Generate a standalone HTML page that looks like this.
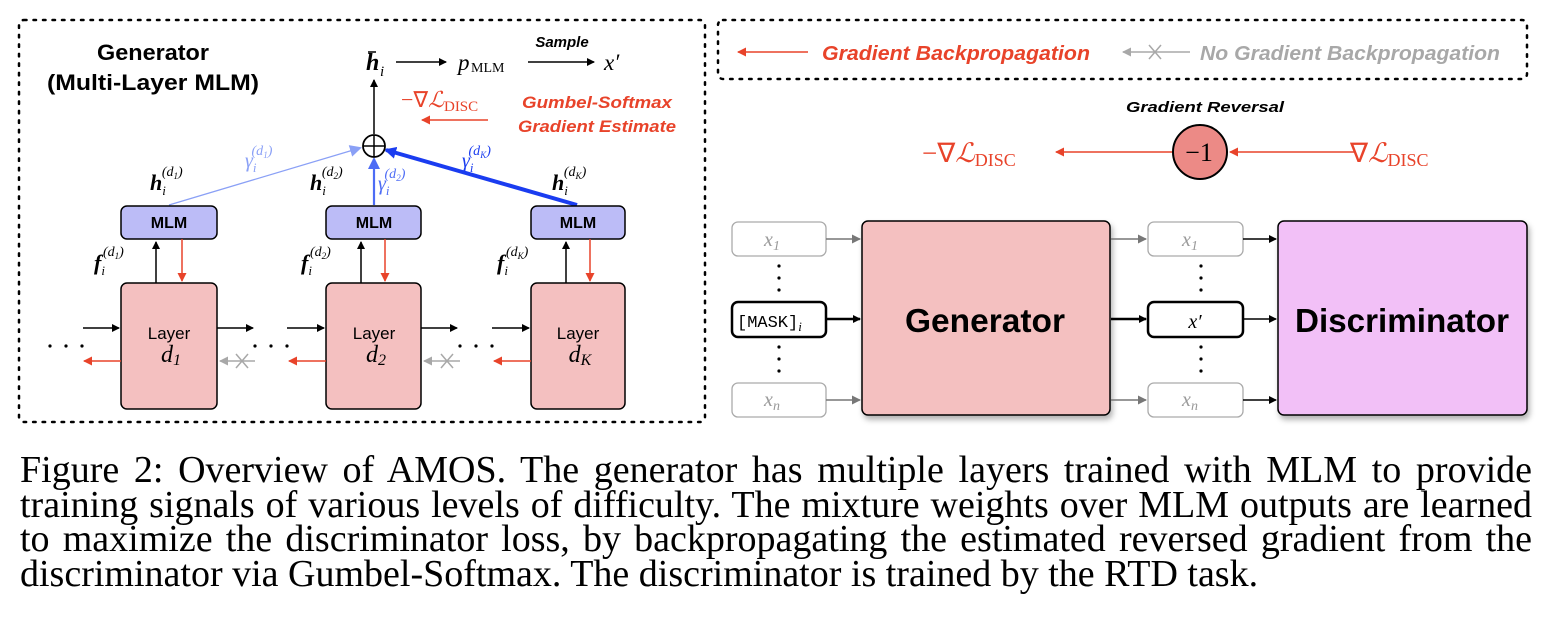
<!DOCTYPE html>
<html><head><meta charset="utf-8"><style>
body{margin:0;background:#fff;width:1550px;height:634px;overflow:hidden}
svg{position:absolute;left:0;top:0}
.cap{position:absolute;left:20px;top:453px;width:1512px;font-family:"Liberation Serif",serif;font-size:38px;line-height:34.7px;color:#000}
.cap div{text-align:justify;text-align-last:justify;height:34.7px;overflow:visible;white-space:nowrap}
.cap div.l{text-align:left;text-align-last:left}
.s{font-family:"Liberation Sans",sans-serif;font-weight:bold}
.m{font-family:"Liberation Serif",serif;font-style:italic}
.r{font-family:"Liberation Serif",serif}
</style></head><body>
<svg width="1550" height="440" viewBox="0 0 1550 440">
<defs>
<marker id="ak" markerWidth="8" markerHeight="8" refX="7" refY="4" orient="auto" markerUnits="userSpaceOnUse"><path d="M0,0L8,4L0,8z" fill="#000"/></marker>
<marker id="ar" markerWidth="9" markerHeight="9" refX="8" refY="4.5" orient="auto" markerUnits="userSpaceOnUse"><path d="M0,0L9,4.5L0,9z" fill="#e8432a"/></marker>
<marker id="ag" markerWidth="9" markerHeight="9" refX="8" refY="4.5" orient="auto" markerUnits="userSpaceOnUse"><path d="M0,0L9,4.5L0,9z" fill="#a8a8a8"/></marker>
<marker id="ag2" markerWidth="9" markerHeight="9" refX="8" refY="4.5" orient="auto" markerUnits="userSpaceOnUse"><path d="M0,0L9,4.5L0,9z" fill="#777"/></marker>
<marker id="ab" markerWidth="12" markerHeight="12" refX="10" refY="6" orient="auto" markerUnits="userSpaceOnUse"><path d="M0,0L12,6L0,12z" fill="#1a3cf0"/></marker>
<marker id="ab2" markerWidth="12" markerHeight="12" refX="10" refY="6" orient="auto" markerUnits="userSpaceOnUse"><path d="M0,0L12,6L0,12z" fill="#4d6cf5"/></marker>
<marker id="ab3" markerWidth="12" markerHeight="12" refX="10" refY="6" orient="auto" markerUnits="userSpaceOnUse"><path d="M0,0L12,6L0,12z" fill="#8aa0f6"/></marker>
<filter id="sh" x="-10%" y="-10%" width="130%" height="130%"><feDropShadow dx="2" dy="4" stdDeviation="3" flood-opacity="0.3"/></filter>
</defs>
<rect x="19" y="20" width="686" height="402" rx="5" fill="none" stroke="#000" stroke-width="2.5" stroke-dasharray="2.5 7" stroke-linecap="round"/>
<text x="153" y="60" class="s" font-size="22" text-anchor="middle" textLength="112" lengthAdjust="spacingAndGlyphs">Generator</text>
<text x="153" y="90" class="s" font-size="22" text-anchor="middle" textLength="212" lengthAdjust="spacingAndGlyphs">(Multi-Layer MLM)</text>
<text x="366" y="70" class="m" font-weight="bold" font-size="24">h</text><line x1="368" y1="52" x2="376" y2="52" stroke="#000" stroke-width="1.5"/><text x="380" y="76" class="m" font-size="15">i</text>
<line x1="396" y1="62" x2="446" y2="62" stroke="#000" stroke-width="1.5" marker-end="url(#ak)"/>
<text x="458" y="70" class="m" font-size="23">p</text><text x="471" y="72" class="r" font-size="14">MLM</text>
<line x1="528" y1="62" x2="594" y2="62" stroke="#000" stroke-width="1.5" marker-end="url(#ak)"/>
<text x="562" y="47" class="s" font-size="15" font-style="italic" text-anchor="middle">Sample</text>
<text x="604" y="70" class="m" font-size="23">x′</text>
<text x="401" y="107" class="r" font-size="22" fill="#e8432a">−∇<tspan class="m">ℒ</tspan><tspan font-size="15" dy="4">DISC</tspan></text>
<line x1="488" y1="120" x2="422" y2="120" stroke="#e8432a" stroke-width="1.5" marker-end="url(#ar)"/>
<text x="597" y="108" class="s" font-size="17" font-style="italic" fill="#e8432a" text-anchor="middle" textLength="150" lengthAdjust="spacingAndGlyphs">Gumbel-Softmax</text>
<text x="597" y="132" class="s" font-size="17" font-style="italic" fill="#e8432a" text-anchor="middle" textLength="158" lengthAdjust="spacingAndGlyphs">Gradient Estimate</text>
<line x1="374" y1="134" x2="374" y2="80" stroke="#000" stroke-width="1.5" marker-end="url(#ak)"/>
<line x1="169" y1="205" x2="360" y2="148" stroke="#8aa0f6" stroke-width="1.3" marker-end="url(#ab3)"/>
<line x1="374" y1="205" x2="374" y2="159" stroke="#4d6cf5" stroke-width="2.2" marker-end="url(#ab2)"/>
<line x1="577" y1="205" x2="386" y2="150" stroke="#1a3cf0" stroke-width="4" marker-end="url(#ab)"/>
<circle cx="374" cy="146" r="11" fill="#fff" stroke="#000" stroke-width="1.8"/>
<line x1="363" y1="146" x2="385" y2="146" stroke="#000" stroke-width="1.5"/><line x1="374" y1="135" x2="374" y2="157" stroke="#000" stroke-width="1.5"/>
<text x="245" y="167" class="m" font-size="20" fill="#8aa0f6">γ<tspan font-size="13" dy="5">i</tspan><tspan class="r" font-size="14" dy="-17" dx="-5">(d</tspan><tspan font-size="9" dy="3">1</tspan><tspan class="r" font-size="14" dy="-3">)</tspan></text>
<text x="378" y="190" class="m" font-size="20" fill="#4d6cf5">γ<tspan font-size="13" dy="5">i</tspan><tspan class="r" font-size="14" dy="-17" dx="-5">(d</tspan><tspan font-size="9" dy="3">2</tspan><tspan class="r" font-size="14" dy="-3">)</tspan></text>
<text x="462" y="167" class="m" font-size="20" fill="#1a3cf0">γ<tspan font-size="13" dy="5">i</tspan><tspan class="r" font-size="14" dy="-17" dx="-5">(d</tspan><tspan font-size="9" dy="3">K</tspan><tspan class="r" font-size="14" dy="-3">)</tspan></text>
<g font-size="22">
<text x="150" y="190" class="m" font-weight="bold">h<tspan font-size="13" font-weight="normal" dy="5">i</tspan><tspan class="r" font-weight="normal" font-size="14" dy="-19" dx="-4">(d</tspan><tspan font-weight="normal" font-size="9" dy="3">1</tspan><tspan class="r" font-weight="normal" font-size="14" dy="-3">)</tspan></text>
<text x="310" y="190" class="m" font-weight="bold">h<tspan font-size="13" font-weight="normal" dy="5">i</tspan><tspan class="r" font-weight="normal" font-size="14" dy="-19" dx="-4">(d</tspan><tspan font-weight="normal" font-size="9" dy="3">2</tspan><tspan class="r" font-weight="normal" font-size="14" dy="-3">)</tspan></text>
<text x="552" y="190" class="m" font-weight="bold">h<tspan font-size="13" font-weight="normal" dy="5">i</tspan><tspan class="r" font-weight="normal" font-size="14" dy="-19" dx="-4">(d</tspan><tspan font-weight="normal" font-size="9" dy="3">K</tspan><tspan class="r" font-weight="normal" font-size="14" dy="-3">)</tspan></text>
<text x="94" y="270" class="m" font-weight="bold">f<tspan font-size="13" font-weight="normal" dy="5">i</tspan><tspan class="r" font-weight="normal" font-size="14" dy="-19" dx="-2">(d</tspan><tspan font-weight="normal" font-size="9" dy="3">1</tspan><tspan class="r" font-weight="normal" font-size="14" dy="-3">)</tspan></text>
<text x="301" y="270" class="m" font-weight="bold">f<tspan font-size="13" font-weight="normal" dy="5">i</tspan><tspan class="r" font-weight="normal" font-size="14" dy="-19" dx="-2">(d</tspan><tspan font-weight="normal" font-size="9" dy="3">2</tspan><tspan class="r" font-weight="normal" font-size="14" dy="-3">)</tspan></text>
<text x="497" y="270" class="m" font-weight="bold">f<tspan font-size="13" font-weight="normal" dy="5">i</tspan><tspan class="r" font-weight="normal" font-size="14" dy="-19" dx="-2">(d</tspan><tspan font-weight="normal" font-size="9" dy="3">K</tspan><tspan class="r" font-weight="normal" font-size="14" dy="-3">)</tspan></text>
</g>
<g>
<rect x="121" y="206" width="96" height="33" rx="6" fill="#bcbcf7" stroke="#000" stroke-width="1.5"/>
<text x="169" y="228" class="s" font-size="16" text-anchor="middle">MLM</text>
<rect x="121" y="283" width="96" height="126" rx="6" fill="#f4c0c0" stroke="#000" stroke-width="1.5"/>
<text x="169" y="339" font-family="Liberation Sans" font-size="17" text-anchor="middle">Layer</text>
<text x="171" y="362" class="m" font-size="24" text-anchor="middle">d<tspan class="r" font-size="16" dy="3">1</tspan></text>
<line x1="156" y1="283" x2="156" y2="242" stroke="#000" stroke-width="1.5" marker-end="url(#ak)"/>
<line x1="182" y1="239" x2="182" y2="281" stroke="#e8432a" stroke-width="1.5" marker-end="url(#ar)"/>
</g>
<g>
<rect x="326" y="206" width="95" height="33" rx="6" fill="#bcbcf7" stroke="#000" stroke-width="1.5"/>
<text x="374" y="228" class="s" font-size="16" text-anchor="middle">MLM</text>
<rect x="326" y="283" width="95" height="126" rx="6" fill="#f4c0c0" stroke="#000" stroke-width="1.5"/>
<text x="374" y="339" font-family="Liberation Sans" font-size="17" text-anchor="middle">Layer</text>
<text x="376" y="362" class="m" font-size="24" text-anchor="middle">d<tspan class="r" font-size="16" dy="3">2</tspan></text>
<line x1="361" y1="283" x2="361" y2="242" stroke="#000" stroke-width="1.5" marker-end="url(#ak)"/>
<line x1="385" y1="239" x2="385" y2="281" stroke="#e8432a" stroke-width="1.5" marker-end="url(#ar)"/>
</g>
<g>
<rect x="531" y="206" width="94" height="33" rx="6" fill="#bcbcf7" stroke="#000" stroke-width="1.5"/>
<text x="578" y="228" class="s" font-size="16" text-anchor="middle">MLM</text>
<rect x="531" y="283" width="94" height="126" rx="6" fill="#f4c0c0" stroke="#000" stroke-width="1.5"/>
<text x="578" y="339" font-family="Liberation Sans" font-size="17" text-anchor="middle">Layer</text>
<text x="580" y="362" class="m" font-size="24" text-anchor="middle">d<tspan font-size="16" dy="3">K</tspan></text>
<line x1="566" y1="283" x2="566" y2="242" stroke="#000" stroke-width="1.5" marker-end="url(#ak)"/>
<line x1="590" y1="239" x2="590" y2="281" stroke="#e8432a" stroke-width="1.5" marker-end="url(#ar)"/>
</g>
<g stroke-width="1.5">
<line x1="83" y1="328" x2="119" y2="328" stroke="#000" marker-end="url(#ak)"/>
<line x1="217" y1="328" x2="253" y2="328" stroke="#000" marker-end="url(#ak)"/>
<line x1="287" y1="328" x2="324" y2="328" stroke="#000" marker-end="url(#ak)"/>
<line x1="421" y1="328" x2="457" y2="328" stroke="#000" marker-end="url(#ak)"/>
<line x1="492" y1="328" x2="529" y2="328" stroke="#000" marker-end="url(#ak)"/>
<line x1="121" y1="361" x2="84" y2="361" stroke="#e8432a" marker-end="url(#ar)"/>
<line x1="326" y1="361" x2="289" y2="361" stroke="#e8432a" marker-end="url(#ar)"/>
<line x1="531" y1="361" x2="494" y2="361" stroke="#e8432a" marker-end="url(#ar)"/>
<line x1="255" y1="361" x2="220" y2="361" stroke="#a8a8a8" marker-end="url(#ag)"/>
<path d="M236,354L248,368M248,354L236,368" stroke="#a8a8a8"/>
<line x1="460" y1="361" x2="424" y2="361" stroke="#a8a8a8" marker-end="url(#ag)"/>
<path d="M441,354L453,368M453,354L441,368" stroke="#a8a8a8"/>
</g>
<g fill="#000"><circle cx="50" cy="346" r="1.6"/><circle cx="66" cy="346" r="1.6"/><circle cx="82" cy="346" r="1.6"/>
<circle cx="255" cy="346" r="1.6"/><circle cx="271" cy="346" r="1.6"/><circle cx="287" cy="346" r="1.6"/>
<circle cx="460" cy="346" r="1.6"/><circle cx="476" cy="346" r="1.6"/><circle cx="492" cy="346" r="1.6"/></g>

<rect x="718" y="20" width="809" height="59" rx="5" fill="none" stroke="#000" stroke-width="2.5" stroke-dasharray="2.5 7" stroke-linecap="round"/>
<line x1="808" y1="52" x2="738" y2="52" stroke="#e8432a" stroke-width="1.5" marker-end="url(#ar)"/>
<text x="822" y="60" class="s" font-size="20" font-style="italic" fill="#e8432a" textLength="268" lengthAdjust="spacingAndGlyphs">Gradient Backpropagation</text>
<line x1="1190" y1="52" x2="1123" y2="52" stroke="#a8a8a8" stroke-width="1.5" marker-end="url(#ag)"/>
<path d="M1149,45L1161,59M1161,45L1149,59" stroke="#a8a8a8" stroke-width="1.5"/>
<text x="1200" y="60" class="s" font-size="20" font-style="italic" fill="#a8a8a8" textLength="300" lengthAdjust="spacingAndGlyphs">No Gradient Backpropagation</text>
<text x="1205" y="112" class="s" font-size="15" font-style="italic" text-anchor="middle" textLength="158" lengthAdjust="spacingAndGlyphs">Gradient Reversal</text>
<line x1="1172" y1="152" x2="1056" y2="152" stroke="#e8432a" stroke-width="1.5" marker-end="url(#ar)"/>
<line x1="1355" y1="152" x2="1230" y2="152" stroke="#e8432a" stroke-width="1.5" marker-end="url(#ar)"/>
<ellipse cx="1200" cy="152" rx="27" ry="27" fill="#ec8a86" stroke="#000" stroke-width="2"/>
<text x="1199" y="161" class="r" font-size="26" text-anchor="middle">−1</text>
<text x="922" y="162" class="r" font-size="27" fill="#e8432a">−∇<tspan class="m">ℒ</tspan><tspan font-size="18" dy="4">DISC</tspan></text>
<text x="1350" y="162" class="r" font-size="27" fill="#e8432a">∇<tspan class="m">ℒ</tspan><tspan font-size="18" dy="4">DISC</tspan></text>
<rect x="732" y="222" width="94" height="34" rx="6" fill="#fff" stroke="#aaa" stroke-width="1.3"/>
<text x="772" y="246" class="m" font-size="20" fill="#999" text-anchor="middle">x<tspan class="r" font-size="14" dy="4">1</tspan></text>
<rect x="732" y="302" width="94" height="35" rx="6" fill="#fff" stroke="#000" stroke-width="2.5"/>
<text x="737" y="327" font-family="Liberation Mono" font-size="17">[MASK]<tspan class="m" font-size="13" dy="4">i</tspan></text>
<rect x="732" y="383" width="94" height="34" rx="6" fill="#fff" stroke="#aaa" stroke-width="1.3"/>
<text x="772" y="406" class="m" font-size="20" fill="#999" text-anchor="middle">x<tspan font-size="14" dy="4">n</tspan></text>
<g fill="#000"><circle cx="779" cy="266" r="1.6"/><circle cx="779" cy="278" r="1.6"/><circle cx="779" cy="290" r="1.6"/>
<circle cx="779" cy="347" r="1.6"/><circle cx="779" cy="359" r="1.6"/><circle cx="779" cy="371" r="1.6"/>
<circle cx="1201" cy="266" r="1.6"/><circle cx="1201" cy="278" r="1.6"/><circle cx="1201" cy="290" r="1.6"/>
<circle cx="1201" cy="347" r="1.6"/><circle cx="1201" cy="359" r="1.6"/><circle cx="1201" cy="371" r="1.6"/></g>
<rect x="862" y="221" width="248" height="194" rx="6" fill="#f4c0c0" stroke="#000" stroke-width="1.5" filter="url(#sh)"/>
<text x="985" y="332" class="s" font-size="33" text-anchor="middle" textLength="160" lengthAdjust="spacingAndGlyphs">Generator</text>
<rect x="1148" y="222" width="95" height="34" rx="6" fill="#fff" stroke="#aaa" stroke-width="1.3"/>
<text x="1190" y="246" class="m" font-size="20" fill="#999" text-anchor="middle">x<tspan class="r" font-size="14" dy="4">1</tspan></text>
<rect x="1148" y="302" width="95" height="35" rx="6" fill="#fff" stroke="#000" stroke-width="2.5"/>
<text x="1195" y="328" class="m" font-size="20" text-anchor="middle">x′</text>
<rect x="1148" y="383" width="95" height="34" rx="6" fill="#fff" stroke="#aaa" stroke-width="1.3"/>
<text x="1190" y="406" class="m" font-size="20" fill="#999" text-anchor="middle">x<tspan font-size="14" dy="4">n</tspan></text>
<rect x="1278" y="221" width="249" height="194" rx="6" fill="#f2c0f7" stroke="#000" stroke-width="1.5" filter="url(#sh)"/>
<text x="1402" y="332" class="s" font-size="33" text-anchor="middle" textLength="214" lengthAdjust="spacingAndGlyphs">Discriminator</text>
<g stroke-width="1.5">
<line x1="826" y1="239" x2="860" y2="239" stroke="#777" marker-end="url(#ag2)"/>
<line x1="826" y1="400" x2="860" y2="400" stroke="#777" marker-end="url(#ag2)"/>
<line x1="826" y1="319" x2="860" y2="319" stroke="#000" stroke-width="2.5" marker-end="url(#ak)"/>
<line x1="1111" y1="239" x2="1146" y2="239" stroke="#777" marker-end="url(#ag2)"/>
<line x1="1111" y1="400" x2="1146" y2="400" stroke="#777" marker-end="url(#ag2)"/>
<line x1="1111" y1="319" x2="1146" y2="319" stroke="#000" stroke-width="2.5" marker-end="url(#ak)"/>
<line x1="1243" y1="239" x2="1276" y2="239" stroke="#000" marker-end="url(#ak)"/>
<line x1="1243" y1="319" x2="1276" y2="319" stroke="#000" marker-end="url(#ak)"/>
<line x1="1243" y1="400" x2="1276" y2="400" stroke="#000" marker-end="url(#ak)"/>
</g>
</svg>
<div class="cap">
<div style="white-space:normal">Figure 2: Overview of AMOS. The generator has multiple layers trained with MLM to provide</div>
<div style="white-space:normal">training signals of various levels of difficulty. The mixture weights over MLM outputs are learned</div>
<div style="white-space:normal">to maximize the discriminator loss, by backpropagating the estimated reversed gradient from the</div>
<div class="l">discriminator via Gumbel-Softmax. The discriminator is trained by the RTD task.</div>
</div>
</body></html>
